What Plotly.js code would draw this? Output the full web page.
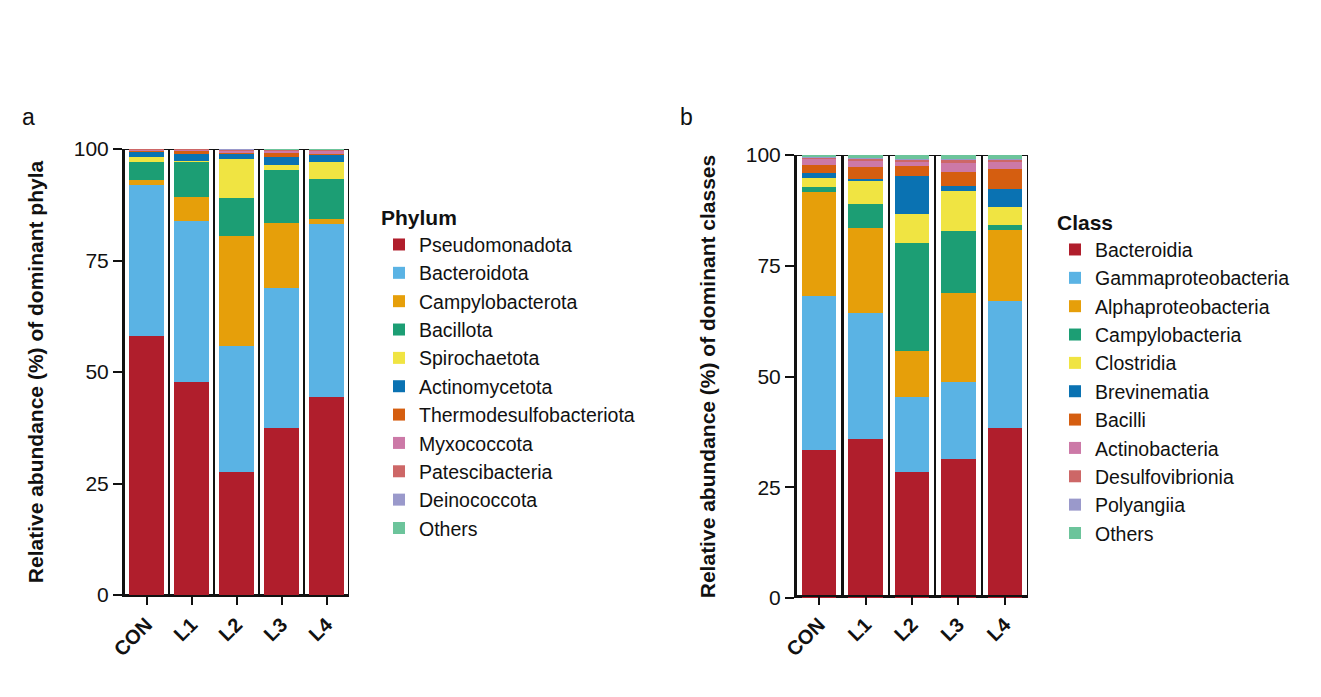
<!DOCTYPE html>
<html>
<head>
<meta charset="utf-8">
<script src="https://cdn.plot.ly/plotly-3.0.1.min.js"></script>
<style>html,body{margin:0;padding:0;background:#fff;}#chart{width:1321px;height:697px;}</style>
</head>
<body>
<div id="chart"></div>
<script>
// ---------- data ----------
const categories = ['CON', 'L1', 'L2', 'L3', 'L4'];
const tickValsY = [0, 25, 50, 75, 100];

// Panel a: phyla (%)
const phylumNames = ['Pseudomonadota', 'Bacteroidota', 'Campylobacterota', 'Bacillota', 'Spirochaetota',
  'Actinomycetota', 'Thermodesulfobacteriota', 'Myxococcota', 'Patescibacteria', 'Deinococcota', 'Others'];
const pseudomonadota   = [58.1, 47.7, 27.6, 37.4, 44.4];
const bacteroidota     = [33.8, 36.2, 28.3, 31.5, 38.7];
const campylobacterota = [1.1, 5.3, 24.6, 14.4, 1.3];
const bacillota        = [4.1, 7.9, 8.5, 12.1, 8.8];
const spirochaetota    = [1.0, 0.3, 8.8, 1.0, 3.8];
const actinomycetota   = [1.3, 1.5, 1.0, 1.9, 1.6];
const thermodesulfo    = [0.1, 0.6, 0.2, 0.8, 0.3];
const myxococcota      = [0.3, 0.25, 0.5, 0.45, 0.7];
const patescibacteria  = [0.1, 0.15, 0.3, 0.2, 0.15];
const deinococcota     = [0.05, 0.05, 0.1, 0.1, 0.1];
const othersPhylum     = [0.15, 0.05, 0.1, 0.15, 0.15];

// Panel b: classes (%)
const classNames = ['Bacteroidia', 'Gammaproteobacteria', 'Alphaproteobacteria', 'Campylobacteria', 'Clostridia',
  'Brevinematia', 'Bacilli', 'Actinobacteria', 'Desulfovibrionia', 'Polyangiia', 'Others'];
const bacteroidia         = [33.4, 35.9, 28.4, 31.4, 38.4];
const gammaproteobacteria = [34.8, 28.4, 17.0, 17.4, 28.6];
const alphaproteobacteria = [23.4, 19.3, 10.4, 20.0, 16.1];
const campylobacteria     = [1.1, 5.3, 24.4, 14.1, 1.1];
const clostridia          = [2.1, 5.3, 6.5, 9.0, 4.1];
const brevinematia        = [1.1, 0.3, 8.6, 1.2, 4.0];
const bacilli             = [1.8, 2.7, 2.3, 3.1, 4.5];
const actinobacteria      = [1.5, 1.4, 0.8, 2.0, 1.6];
const desulfovibrionia    = [0.2, 0.5, 0.4, 0.7, 0.5];
const polyangiia          = [0.1, 0.3, 0.2, 0.3, 0.2];
const othersClass         = [0.5, 0.6, 1.0, 0.8, 0.9];

const palette = ['#B01E2C', '#5AB3E4', '#E69F0A', '#1C9E74', '#F0E442', '#0A72B2',
  '#D55E10', '#CC79A7', '#CD6767', '#9A99CB', '#6CC49B'];

// ---------- build ----------
const phylumSeries = [pseudomonadota, bacteroidota, campylobacterota, bacillota, spirochaetota,
  actinomycetota, thermodesulfo, myxococcota, patescibacteria, deinococcota, othersPhylum];
const classSeries = [bacteroidia, gammaproteobacteria, alphaproteobacteria, campylobacteria, clostridia,
  brevinematia, bacilli, actinobacteria, desulfovibrionia, polyangiia, othersClass];

function totals(series) {
  return categories.map((_, i) => series.reduce((s, arr) => s + arr[i], 0));
}

const FONT = 'Liberation Sans, Arial, Helvetica, sans-serif';
const traces = [];

// outline bars (frame of each column)
traces.push({
  type: 'bar', x: categories, y: totals(phylumSeries), xaxis: 'x', yaxis: 'y',
  width: 1, marker: {color: '#ffffff', line: {color: '#111111', width: 2.2}},
  showlegend: false, hoverinfo: 'skip'
});
traces.push({
  type: 'bar', x: categories, y: totals(classSeries), xaxis: 'x2', yaxis: 'y2',
  width: 1, marker: {color: '#ffffff', line: {color: '#111111', width: 2.2}},
  showlegend: false, hoverinfo: 'skip'
});

phylumSeries.forEach((vals, k) => {
  traces.push({
    type: 'bar', name: phylumNames[k], x: categories, y: vals, xaxis: 'x3', yaxis: 'y',
    width: 0.76, marker: {color: palette[k], line: {width: 0}}, legend: 'legend'
  });
});
classSeries.forEach((vals, k) => {
  traces.push({
    type: 'bar', name: classNames[k], x: categories, y: vals, xaxis: 'x4', yaxis: 'y2',
    width: 0.74, marker: {color: palette[k], line: {width: 0}}, legend: 'legend2'
  });
});

const W = 1321, H = 697;
const px = v => v / W, py = v => 1 - v / H;

function xBase(domain) {
  return {
    domain: domain, type: 'category', categoryorder: 'array', categoryarray: categories,
    range: [-0.5, 4.5], showline: true, linecolor: '#111', linewidth: 2, mirror: false,
    ticks: 'outside', ticklen: 8, tickwidth: 2, tickcolor: '#111', tickangle: -45,
    tickfont: {family: FONT, size: 20, color: '#111', weight: 'bold'},
    showgrid: false, zeroline: false, fixedrange: true
  };
}
function xOver(base) {
  return {
    overlaying: base, type: 'category', categoryorder: 'array', categoryarray: categories,
    range: [-0.5, 4.5], visible: false, showgrid: false, zeroline: false
  };
}
function yAxis(domain, title) {
  return {
    domain: domain, range: [0, 100], tickvals: tickValsY, ticktext: tickValsY.map(String),
    showline: true, linecolor: '#111', linewidth: 2, ticks: 'outside', ticklen: 9, tickwidth: 2,
    tickcolor: '#111', tickfont: {family: FONT, size: 21, color: '#111'},
    showgrid: false, zeroline: false, fixedrange: true,
    title: {text: title, font: {family: FONT, size: 21, color: '#111', weight: 'bold'}, standoff: 24}
  };
}

const legendCommon = {
  xanchor: 'left', yanchor: 'top', traceorder: 'normal', bgcolor: 'rgba(0,0,0,0)',
  font: {family: FONT, size: 19.5, color: '#111'}, itemclick: false, itemdoubleclick: false
};

const layout = {
  width: W, height: H, margin: {l: 0, r: 0, t: 0, b: 0},
  paper_bgcolor: '#fff', plot_bgcolor: 'rgba(0,0,0,0)',
  barmode: 'stack', bargap: 0, font: {family: FONT, color: '#111'},
  xaxis: xBase([px(124), px(349)]),
  xaxis2: xBase([px(796), px(1028)]),
  xaxis3: xOver('x'),
  xaxis4: xOver('x2'),
  yaxis: Object.assign(yAxis([py(595), py(149)], 'Relative abundance (%) of dominant phyla'), {anchor: 'x'}),
  yaxis2: Object.assign(yAxis([py(598), py(155)], 'Relative abundance (%) of dominant classes'), {anchor: 'x2'}),
  legend: Object.assign({}, legendCommon, {
    x: px(379), y: py(198),
    title: {text: 'Phylum', font: {family: FONT, size: 21, color: '#111', weight: 'bold'}}
  }),
  legend2: Object.assign({}, legendCommon, {
    x: px(1055), y: py(203),
    title: {text: 'Class', font: {family: FONT, size: 21, color: '#111', weight: 'bold'}}
  }),
  annotations: [
    {text: 'a', xref: 'paper', yref: 'paper', x: px(20), y: py(117), xanchor: 'left', yanchor: 'middle',
     showarrow: false, font: {family: FONT, size: 23, color: '#111'}},
    {text: 'b', xref: 'paper', yref: 'paper', x: px(678), y: py(117), xanchor: 'left', yanchor: 'middle',
     showarrow: false, font: {family: FONT, size: 23, color: '#111'}}
  ]
};

Plotly.newPlot('chart', traces, layout, {displayModeBar: false, staticPlot: true});
</script>
</body>
</html>
